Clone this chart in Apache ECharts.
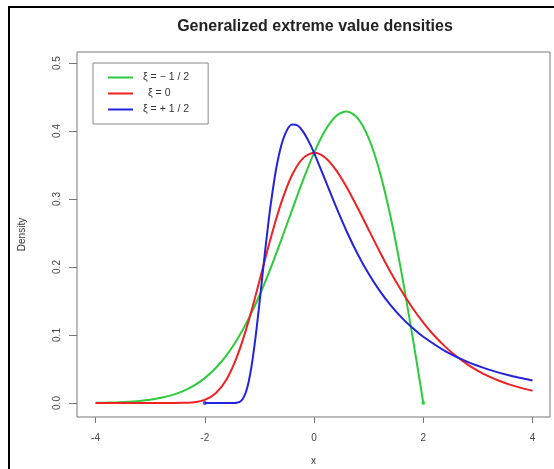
<!DOCTYPE html>
<html>
<head>
<meta charset="utf-8">
<script src="https://cdn.jsdelivr.net/npm/echarts@6/dist/echarts.min.js"></script>
<style>
  html, body { margin: 0; padding: 0; background: #fff; }
  #chart { width: 554px; height: 469px; }
</style>
</head>
<body>
<div id="chart"></div>
<script>
// GEV densities (location 0, scale 1) for three shape values
const xTicks = [-4, -2, 0, 2, 4];
const yTicks = [0, 0.1, 0.2, 0.3, 0.4, 0.5];

const negHalfX = [-4, -3.8, -3.6, -3.4, -3.2, -3.0, -2.8, -2.6, -2.4, -2.2, -2.0, -1.8, -1.6, -1.4, -1.2, -1.0,
  -0.8, -0.6, -0.4, -0.2, 0, 0.2, 0.4, 0.6, 0.8, 1.0, 1.2, 1.4, 1.6, 1.8, 1.9, 2.0];
const negHalfY = [0.0004, 0.0006, 0.0011, 0.0018, 0.0030, 0.0048, 0.0076, 0.0116, 0.0174, 0.0255, 0.0366, 0.0514,
  0.0705, 0.0945, 0.1237, 0.1581, 0.1972, 0.2399, 0.2843, 0.3280, 0.3679, 0.4004, 0.4218, 0.4288, 0.4186,
  0.3894, 0.3409, 0.2742, 0.1922, 0.0990, 0.0499, 0];

const zeroX = [-4, -3.5, -3, -2.8, -2.6, -2.4, -2.2, -2.0, -1.8, -1.6, -1.4, -1.2, -1.0, -0.8, -0.6, -0.4, -0.2,
  0, 0.2, 0.4, 0.6, 0.8, 1.0, 1.2, 1.4, 1.6, 1.8, 2.0, 2.2, 2.4, 2.6, 2.8, 3.0, 3.2, 3.4, 3.6, 3.8, 4.0];
const zeroY = [0, 0, 0, 0, 0.00002, 0.00018, 0.00108, 0.00457, 0.01427, 0.0350, 0.0703, 0.1200, 0.1794, 0.2404,
  0.2946, 0.3356, 0.3601, 0.3679, 0.3611, 0.3429, 0.3170, 0.2867, 0.2546, 0.2229, 0.1927, 0.1650, 0.1401,
  0.1182, 0.0992, 0.0829, 0.0690, 0.0572, 0.0474, 0.0391, 0.0323, 0.0266, 0.0219, 0.0180];

const posHalfX = [-2, -1.8, -1.6, -1.5, -1.45, -1.4, -1.35, -1.3, -1.25, -1.2, -1.15, -1.1, -1.05, -1.0, -0.95,
  -0.9, -0.85, -0.8, -0.7, -0.6, -0.5, -0.4, -0.3, -0.2, -0.1, 0, 0.2, 0.4, 0.6, 0.8, 1.0, 1.2, 1.4, 1.6,
  1.8, 2.0, 2.4, 2.8, 3.2, 3.6, 4.0];
const posHalfY = [0, 0, 0, 0, 0.00009, 0.0006, 0.0023, 0.0067, 0.0155, 0.0302, 0.0514, 0.0787, 0.1110, 0.1465,
  0.1836, 0.2206, 0.2554, 0.2879, 0.3415, 0.3787, 0.4006, 0.4094, 0.4081, 0.3992, 0.3851, 0.3679, 0.3288,
  0.2890, 0.2519, 0.2188, 0.1900, 0.1652, 0.1440, 0.1260, 0.1105, 0.0974, 0.0764, 0.0608, 0.0491, 0.0401,
  0.0331];

const names = ['ξ = − 1 / 2', 'ξ = 0', 'ξ = + 1 / 2'];
const colors = ['#2ccb3c', '#ee2222', '#2323dd'];

const pairs = (xs, ys) => xs.map((x, i) => [x, ys[i]]);

const chart = echarts.init(document.getElementById('chart'), null, { renderer: 'canvas' });
const font = 'Liberation Sans, Arial, Helvetica, sans-serif';

function lineSeries(name, color, data) {
  return {
    name, type: 'line', data,
    symbol: 'none', showSymbol: false,
    smooth: 0.3,
    lineStyle: { color, width: 2 },
    itemStyle: { color },
    z: 3
  };
}

// small dot where a density reaches the end of its support
function endDot(color, x, y) {
  return {
    type: 'scatter', data: [[x, y]],
    symbol: 'circle', symbolSize: 4,
    itemStyle: { color }, z: 4, silent: true
  };
}

const legendText = { fontFamily: font, fontSize: 10.5, color: '#333' };

chart.setOption({
  animation: false,
  backgroundColor: '#fff',
  title: {
    text: 'Generalized extreme value densities',
    left: 310, top: 14, textAlign: 'center',
    textStyle: { fontFamily: font, fontSize: 16, fontWeight: 'bold', color: '#222' }
  },
  legend: {
    orient: 'vertical',
    left: 93, top: 63,
    padding: [9, 19, 9, 15],
    itemGap: 5,
    icon: 'rect',
    itemWidth: 25, itemHeight: 2,
    borderColor: '#888', borderWidth: 1,
    data: names,
    formatter: n => n === 'ξ = 0' ? '{c|' + n + '}' : '{l|' + n + '}',
    textStyle: Object.assign({}, legendText, {
      padding: [0, 0, 0, 5],
      rich: {
        l: Object.assign({ width: 57 }, legendText),
        c: Object.assign({ width: 57, padding: [0, 0, 0, 5] }, legendText)
      }
    })
  },
  grid: {
    left: 77, right: 4, top: 52, bottom: 52,
    outerBoundsMode: 'none',
    show: true, borderColor: '#777', borderWidth: 1, backgroundColor: 'transparent'
  },
  xAxis: {
    type: 'value', min: -4.34, max: 4.32,
    name: 'x', nameLocation: 'middle', nameGap: 39,
    nameTextStyle: { fontFamily: font, fontSize: 10, color: '#333' },
    axisLine: { show: false, onZero: false },
    splitLine: { show: false },
    axisTick: { show: true, customValues: xTicks, length: 6, lineStyle: { color: '#777' } },
    axisLabel: { customValues: xTicks, margin: 16, fontFamily: font, fontSize: 10, color: '#444' }
  },
  yAxis: {
    type: 'value', min: -0.0206, max: 0.5162,
    name: 'Density', nameLocation: 'middle', nameGap: 50,
    nameTextStyle: { fontFamily: font, fontSize: 10, color: '#333' },
    axisLine: { show: false, onZero: false },
    splitLine: { show: false },
    axisTick: { show: true, customValues: yTicks, length: 8, lineStyle: { color: '#777' } },
    axisLabel: { customValues: yTicks, rotate: 90, margin: 15, fontFamily: font, fontSize: 10, color: '#444',
      formatter: v => v.toFixed(1) }
  },
  graphic: [{
    type: 'polyline', silent: true,
    shape: { points: [[9, 469], [9, 7], [554, 7]] },
    style: { stroke: '#000', lineWidth: 2, fill: null }
  }],
  series: [
    lineSeries(names[0], colors[0], pairs(negHalfX, negHalfY)),
    lineSeries(names[1], colors[1], pairs(zeroX, zeroY)),
    lineSeries(names[2], colors[2], pairs(posHalfX, posHalfY)),
    endDot(colors[0], negHalfX[negHalfX.length - 1], negHalfY[negHalfY.length - 1]),
    endDot(colors[2], posHalfX[0], posHalfY[0])
  ]
});
</script>
</body>
</html>
